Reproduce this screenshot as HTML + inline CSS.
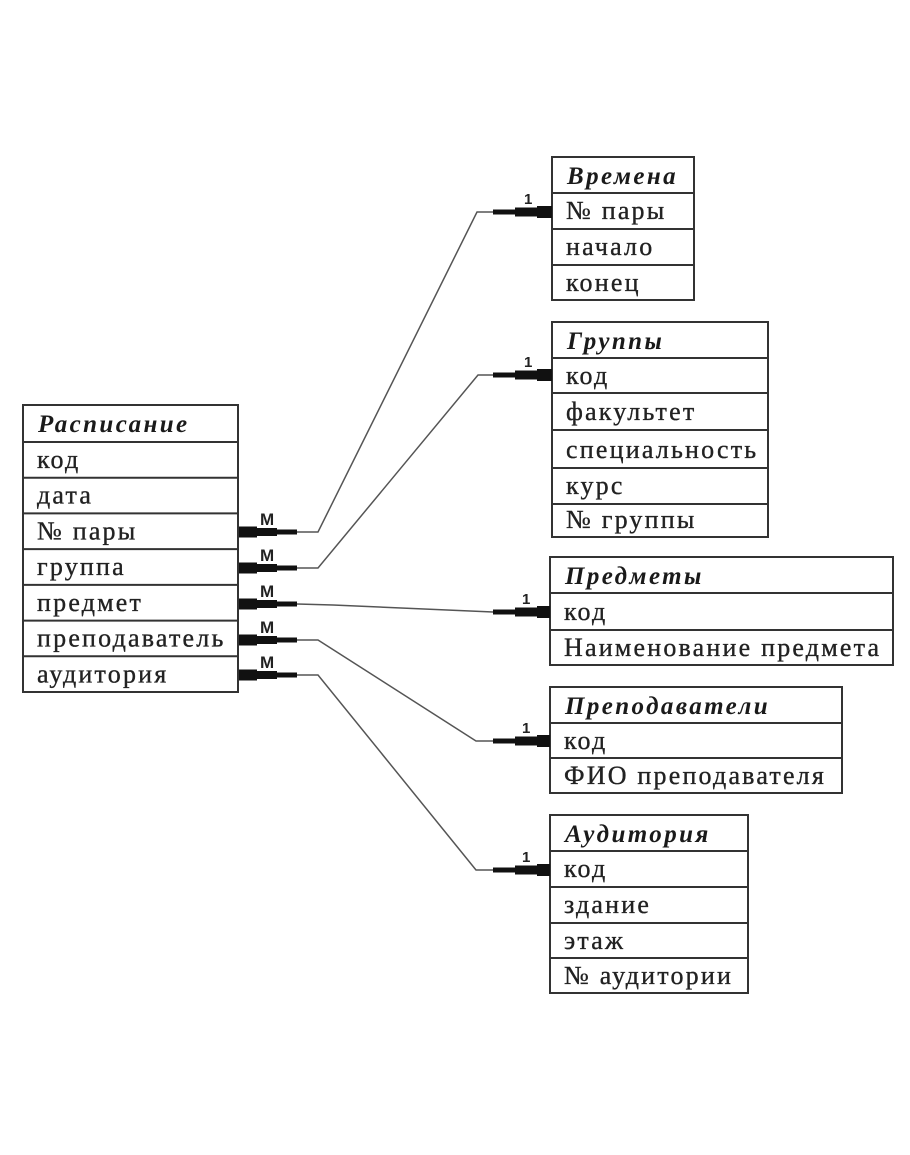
<!DOCTYPE html>
<html>
<head>
<meta charset="utf-8">
<style>
  html,body{margin:0;padding:0;background:#fff;}
  svg{display:block;}
  .r{font-family:"Liberation Serif","DejaVu Serif",serif;font-size:26px;letter-spacing:2.2px;fill:#222;stroke:#222;stroke-width:0.35;}
  .t{font-family:"Liberation Serif","DejaVu Serif",serif;font-size:25px;font-weight:bold;font-style:italic;letter-spacing:2.4px;fill:#1a1a1a;}
  .m{font-family:"Liberation Sans","DejaVu Sans",sans-serif;font-size:17px;font-weight:bold;fill:#222;}
  .o{font-family:"Liberation Sans","DejaVu Sans",sans-serif;font-size:15px;font-weight:bold;fill:#222;}
  .b{fill:none;stroke:#333;stroke-width:2;}
  .l{stroke:#333;stroke-width:2;}
  .c{fill:none;stroke:#555;stroke-width:1.5;}
  .k{fill:#111;}
</style>
</head>
<body>
<svg width="910" height="1155" viewBox="0 0 910 1155" xmlns="http://www.w3.org/2000/svg">
  <!-- Расписание -->
  <rect class="b" x="23" y="405" width="215" height="287"/>
  <line class="l" x1="23" y1="442" x2="238" y2="442"/>
  <line class="l" x1="23" y1="477.7" x2="238" y2="477.7"/>
  <line class="l" x1="23" y1="513.4" x2="238" y2="513.4"/>
  <line class="l" x1="23" y1="549.1" x2="238" y2="549.1"/>
  <line class="l" x1="23" y1="584.9" x2="238" y2="584.9"/>
  <line class="l" x1="23" y1="620.6" x2="238" y2="620.6"/>
  <line class="l" x1="23" y1="656.3" x2="238" y2="656.3"/>
  <text class="t" x="38" y="432">Расписание</text>
  <text class="r" x="37" y="468">код</text>
  <text class="r" x="37" y="503.7">дата</text>
  <text class="r" x="37" y="539.4">№ пары</text>
  <text class="r" x="37" y="575.1">группа</text>
  <text class="r" x="37" y="610.9">предмет</text>
  <text class="r" x="37" y="646.6">преподаватель</text>
  <text class="r" x="37" y="682.3">аудитория</text>

  <!-- Времена -->
  <rect class="b" x="552" y="157" width="142" height="143"/>
  <line class="l" x1="552" y1="193" x2="694" y2="193"/>
  <line class="l" x1="552" y1="229" x2="694" y2="229"/>
  <line class="l" x1="552" y1="265" x2="694" y2="265"/>
  <text class="t" x="567" y="184">Времена</text>
  <text class="r" x="566" y="219">№ пары</text>
  <text class="r" x="566" y="255">начало</text>
  <text class="r" x="566" y="291">конец</text>

  <!-- Группы -->
  <rect class="b" x="552" y="322" width="216" height="215"/>
  <line class="l" x1="552" y1="358" x2="768" y2="358"/>
  <line class="l" x1="552" y1="393" x2="768" y2="393"/>
  <line class="l" x1="552" y1="430" x2="768" y2="430"/>
  <line class="l" x1="552" y1="468" x2="768" y2="468"/>
  <line class="l" x1="552" y1="504" x2="768" y2="504"/>
  <text class="t" x="567" y="349">Группы</text>
  <text class="r" x="566" y="384">код</text>
  <text class="r" x="566" y="420">факультет</text>
  <text class="r" x="566" y="458">специальность</text>
  <text class="r" x="566" y="494">курс</text>
  <text class="r" x="566" y="528">№ группы</text>

  <!-- Предметы -->
  <rect class="b" x="550" y="557" width="343" height="108"/>
  <line class="l" x1="550" y1="593" x2="893" y2="593"/>
  <line class="l" x1="550" y1="630" x2="893" y2="630"/>
  <text class="t" x="565" y="584">Предметы</text>
  <text class="r" x="564" y="620">код</text>
  <text class="r" x="564" y="656">Наименование предмета</text>

  <!-- Преподаватели -->
  <rect class="b" x="550" y="687" width="292" height="106"/>
  <line class="l" x1="550" y1="723" x2="842" y2="723"/>
  <line class="l" x1="550" y1="758" x2="842" y2="758"/>
  <text class="t" x="565" y="714">Преподаватели</text>
  <text class="r" x="564" y="749">код</text>
  <text class="r" x="564" y="784">ФИО преподавателя</text>

  <!-- Аудитория -->
  <rect class="b" x="550" y="815" width="198" height="178"/>
  <line class="l" x1="550" y1="851" x2="748" y2="851"/>
  <line class="l" x1="550" y1="887" x2="748" y2="887"/>
  <line class="l" x1="550" y1="923" x2="748" y2="923"/>
  <line class="l" x1="550" y1="958" x2="748" y2="958"/>
  <text class="t" x="565" y="842">Аудитория</text>
  <text class="r" x="564" y="877">код</text>
  <text class="r" x="564" y="913">здание</text>
  <text class="r" x="564" y="949">этаж</text>
  <text class="r" x="564" y="984">№ аудитории</text>

  <!-- Connectors: thin lines -->
  <polyline class="c" points="297,532 318,532 477,212 493,212"/>
  <polyline class="c" points="297,568 318,568 478,375 493,375"/>
  <polyline class="c" points="297,604 333,605 493,612"/>
  <polyline class="c" points="297,640 318,640 476,741 493,741"/>
  <polyline class="c" points="297,675 318,675 476,870 493,870"/>

  <!-- M-side ends -->
  <g class="k">
    <rect x="239" y="526.5" width="18" height="11"/><rect x="257" y="528" width="20" height="8"/><rect x="277" y="529.5" width="20" height="5"/>
    <rect x="239" y="562.5" width="18" height="11"/><rect x="257" y="564" width="20" height="8"/><rect x="277" y="565.5" width="20" height="5"/>
    <rect x="239" y="598.5" width="18" height="11"/><rect x="257" y="600" width="20" height="8"/><rect x="277" y="601.5" width="20" height="5"/>
    <rect x="239" y="634.5" width="18" height="11"/><rect x="257" y="636" width="20" height="8"/><rect x="277" y="637.5" width="20" height="5"/>
    <rect x="239" y="669.5" width="18" height="11"/><rect x="257" y="671" width="20" height="8"/><rect x="277" y="672.5" width="20" height="5"/>
  </g>
  <text class="m" x="260" y="525">M</text>
  <text class="m" x="260" y="561">M</text>
  <text class="m" x="260" y="597">M</text>
  <text class="m" x="260" y="633">M</text>
  <text class="m" x="260" y="668">M</text>

  <!-- 1-side ends -->
  <g class="k">
    <rect x="493" y="209.5" width="22" height="5"/><rect x="515" y="207.5" width="22" height="9"/><rect x="537" y="206" width="15" height="12"/>
    <rect x="493" y="372.5" width="22" height="5"/><rect x="515" y="370.5" width="22" height="9"/><rect x="537" y="369" width="15" height="12"/>
    <rect x="493" y="609.5" width="22" height="5"/><rect x="515" y="607.5" width="22" height="9"/><rect x="537" y="606" width="13" height="12"/>
    <rect x="493" y="738.5" width="22" height="5"/><rect x="515" y="736.5" width="22" height="9"/><rect x="537" y="735" width="13" height="12"/>
    <rect x="493" y="867.5" width="22" height="5"/><rect x="515" y="865.5" width="22" height="9"/><rect x="537" y="864" width="13" height="12"/>
  </g>
  <text class="o" x="524" y="204">1</text>
  <text class="o" x="524" y="367">1</text>
  <text class="o" x="522" y="604">1</text>
  <text class="o" x="522" y="733">1</text>
  <text class="o" x="522" y="862">1</text>
</svg>
</body>
</html>
